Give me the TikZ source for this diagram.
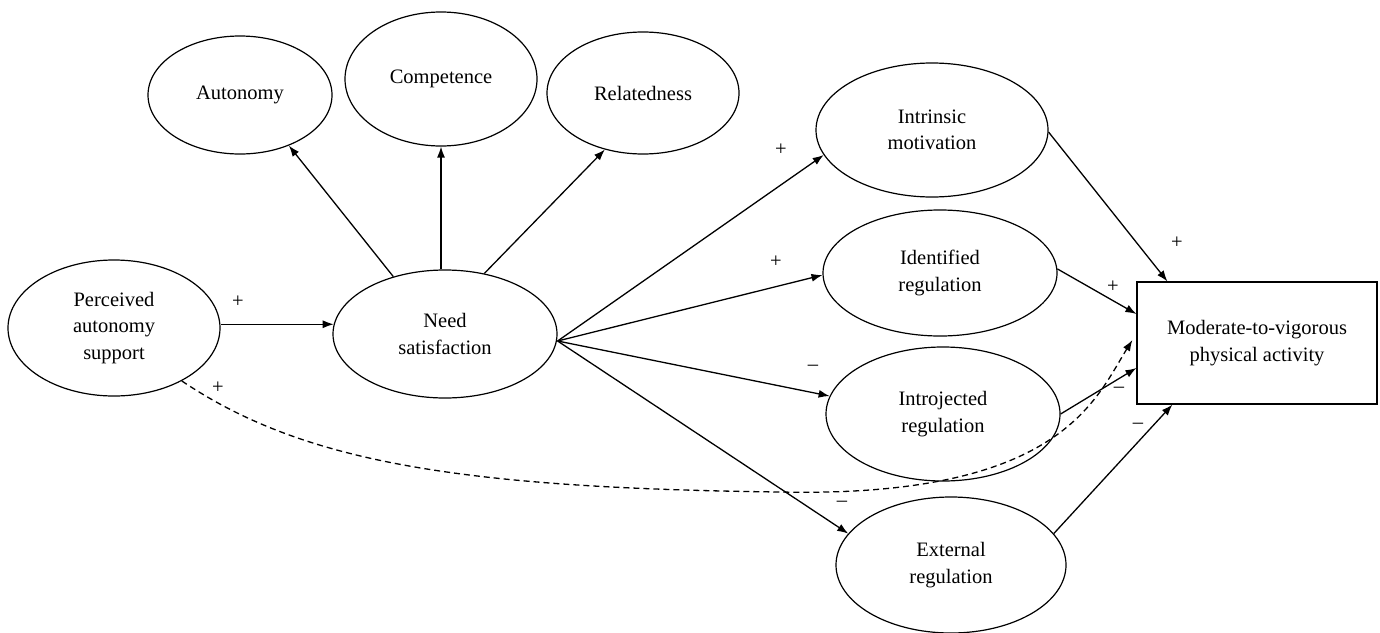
\documentclass[tikz,border=0pt]{standalone}
\usepackage{fontspec}
\setmainfont{Liberation Serif}
\usetikzlibrary{shapes.geometric,arrows.meta}
\begin{document}
\begin{tikzpicture}[x=1pt,y=-1pt,
  every node/.style={font=\fontsize{20.5}{26.5}\selectfont, align=center},
  ell/.style={draw, ellipse, line width=1.2pt, inner sep=0pt},
  boxnode/.style={draw, rectangle, line width=1.2pt, inner sep=0pt},
  arr/.style={line width=1.3pt, -{Latex[length=11pt,width=8pt]}},
  darr/.style={line width=1.3pt, dash pattern=on 6pt off 4pt, -{Latex[length=11pt,width=8pt]}},
  sign/.style={inner sep=0pt}]
\useasboundingbox (0,0) rectangle (1380,632);
% nodes
\node[ell, minimum width=212pt, minimum height=136pt] (pas) at (114,328) {Perceived\\autonomy\\support};
\node[ell, minimum width=224pt, minimum height=128pt] (need) at (445,334) {Need\\satisfaction};
\node[ell, minimum width=184pt, minimum height=118pt] (aut) at (240,95) {Autonomy};
\node[ell, minimum width=192pt, minimum height=134pt] (comp) at (441,79) {Competence};
\node[ell, minimum width=192pt, minimum height=122pt] (rel) at (643,93) {Relatedness};
\node[ell, minimum width=232pt, minimum height=134pt] (intr) at (932,130) {Intrinsic\\motivation};
\node[ell, minimum width=234pt, minimum height=126pt] (iden) at (940,273) {Identified\\regulation};
\node[ell, minimum width=234pt, minimum height=134pt] (intro) at (943,414) {Introjected\\regulation};
\node[ell, minimum width=230pt, minimum height=136pt] (ext) at (951,565) {External\\regulation};
\node[boxnode, minimum width=240pt, minimum height=122pt] (mvpa) at (1257,343) {Moderate-to-vigorous\\physical activity};
% helper coordinates
\coordinate (hub) at ([yshift=-7pt]need.east);
\coordinate (dtip) at ([xshift=-4pt,yshift=3pt]mvpa.west);
% connectors
\draw[arr] (pas.east |- need.175) -- (need.175);
\draw[arr] (need.132) -- (aut.-46);
\draw[arr] (comp.south |- need.north) -- (comp.south);
\draw[arr] (need.57) -- (rel.236);
\draw[arr] (hub) -- (intr.193);
\draw[arr] (hub) -- (iden.181);
\draw[arr] (hub) -- (intro.171);
\draw[arr] (hub) -- (ext.163);
\draw[arr] (intr.-1) -- ([xshift=31pt]mvpa.north west);
\draw[arr] (iden.2) -- ([yshift=29pt]mvpa.west);
\draw[arr] (intro.east) -- ([yshift=-25pt]mvpa.west);
\draw[arr] (ext.17) -- ([xshift=36pt]mvpa.south west);
\draw[darr] (pas.-38) .. controls (300,460) and (450,488) .. (780,492)
  .. controls (1060,498) and (1095,400) .. (dtip);
% signs
\node[sign] (s1) at (238,302) {+};
\node[sign] (s2) at (218,388) {+};
\node[sign] (s3) at (781,150) {+};
\node[sign] (s4) at (776,262) {+};
\node[sign] (s5) at (813,368) {\textendash};
\node[sign] (s6) at (842,504) {\textendash};
\node[sign] (s7) at (1177,243) {+};
\node[sign] (s8) at (1113,287) {+};
\node[sign] (s9) at (1119,390) {\textendash};
\node[sign] (s10) at (1138,426) {\textendash};
\end{tikzpicture}
\end{document}
